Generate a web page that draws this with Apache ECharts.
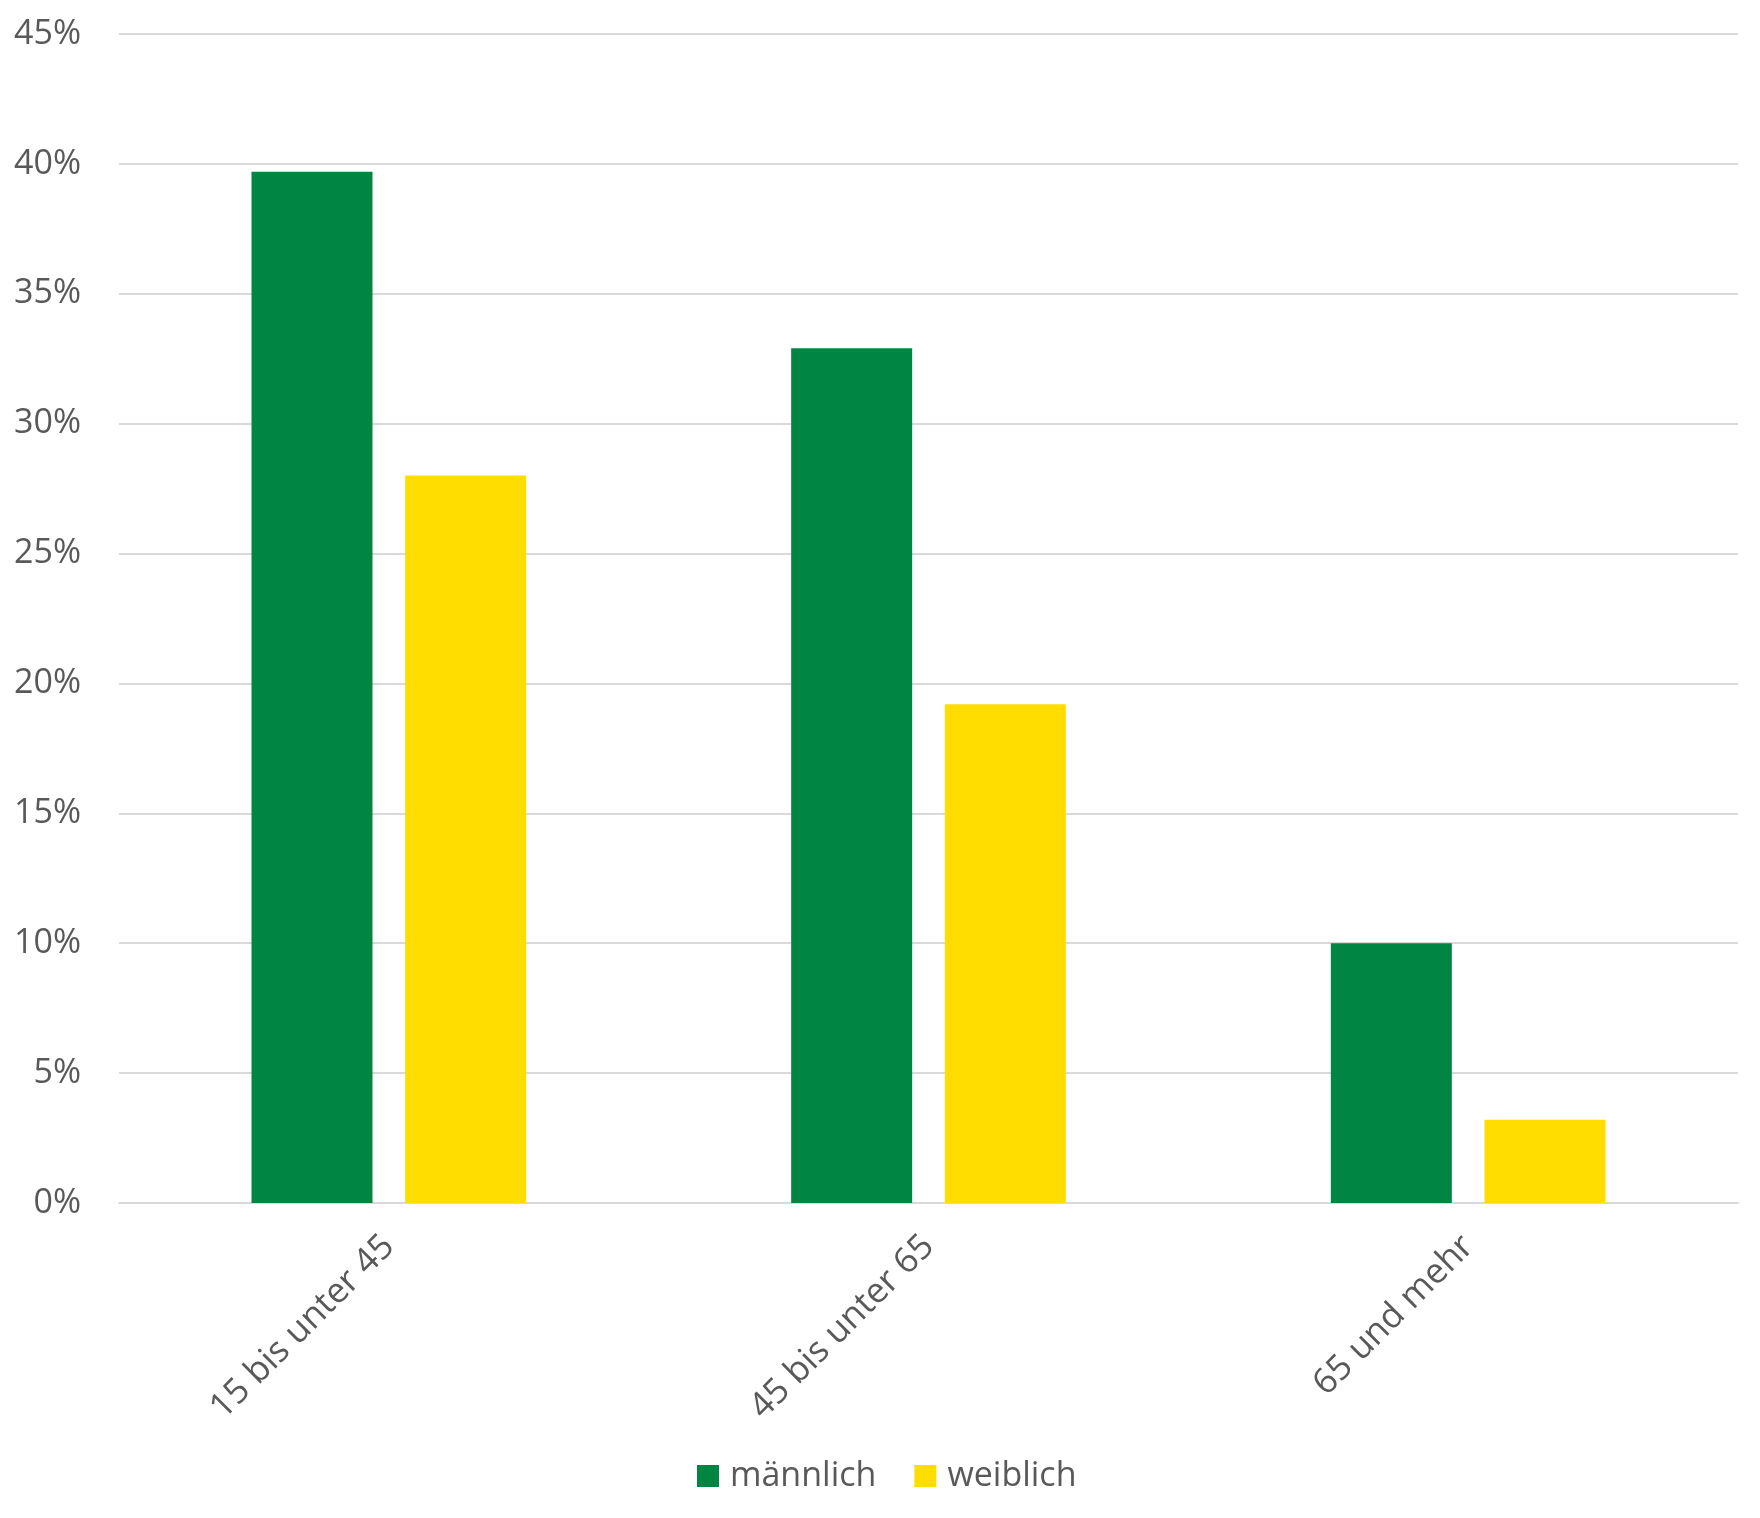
<!DOCTYPE html>
<html>
<head>
<meta charset="utf-8">
<script src="https://cdn.jsdelivr.net/npm/echarts@6/dist/echarts.min.js"></script>
<style>
html,body{margin:0;padding:0;background:#fff;}
#chart{width:1760px;height:1518px;}
</style>
</head>
<body>
<div id="chart"></div>
<script>
const categories = ['15 bis unter 45', '45 bis unter 65', '65 und mehr'];
const maennlich = [39.7, 32.9, 10.0];
const weiblich = [28.0, 19.2, 3.2];
const seriesNames = ['männlich', 'weiblich'];

const chart = echarts.init(document.getElementById('chart'));
const textColor = '#595959';
const font = '"Open Sans", "Noto Sans", sans-serif';
chart.setOption({
  animation: false,
  backgroundColor: '#ffffff',
  textStyle: { fontFamily: font },
  grid: { left: 119, right: 22, top: 34, bottom: 315, containLabel: false },
  legend: {
    data: seriesNames,
    bottom: 20,
    left: 692,
    itemWidth: 22,
    itemHeight: 22,
    itemGap: 38,
    icon: 'rect',
    textStyle: { color: textColor, fontSize: 34, fontFamily: font, padding: [0, 0, 0, 6] }
  },
  xAxis: {
    type: 'category',
    data: categories,
    axisLine: { show: true, lineStyle: { color: '#d9d9d9', width: 2 } },
    axisTick: { show: false },
    axisLabel: { rotate: 45, color: textColor, fontSize: 35, fontFamily: font, margin: 38 }
  },
  yAxis: {
    type: 'value',
    min: 0,
    max: 45,
    interval: 5,
    axisLine: { show: false },
    axisTick: { show: false },
    splitLine: { lineStyle: { color: '#d9d9d9', width: 2 } },
    axisLabel: { color: textColor, fontSize: 34, fontFamily: font, margin: 38, formatter: v => v + '%' }
  },
  series: [
    { name: seriesNames[0], type: 'bar', data: maennlich, barWidth: 121, barGap: '27%', itemStyle: { color: '#008542' } },
    { name: seriesNames[1], type: 'bar', data: weiblich, barWidth: 121, barGap: '27%', itemStyle: { color: '#FFDD00' } }
  ]
});
</script>
</body>
</html>
